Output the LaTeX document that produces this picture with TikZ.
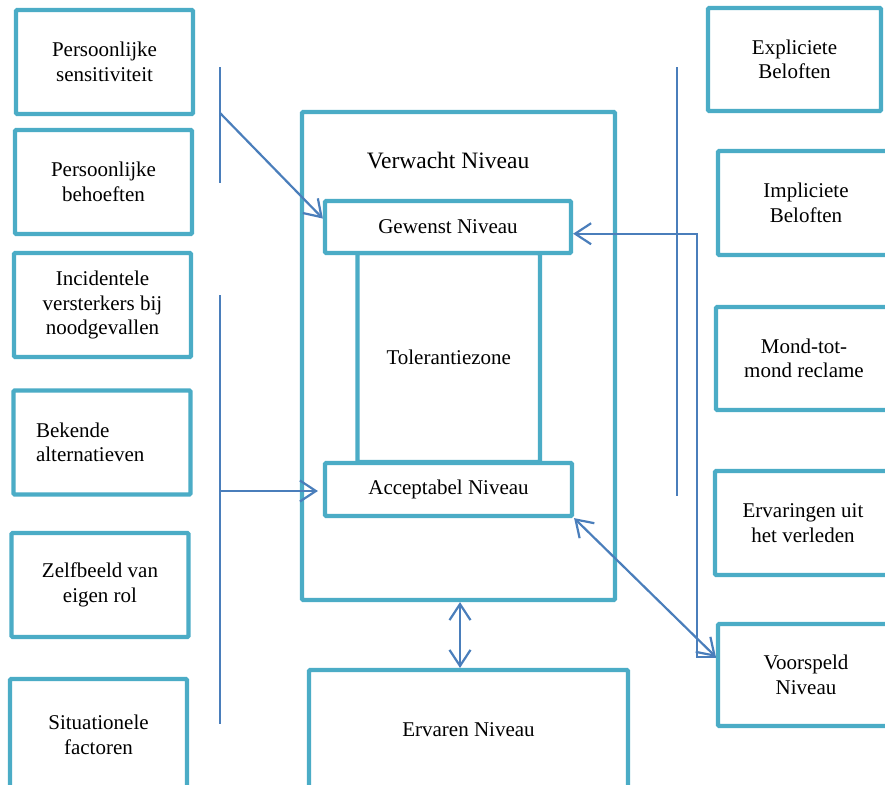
\documentclass[tikz,border=0pt]{standalone}
\usepackage{fontspec}
\setmainfont{Liberation Serif}
\usetikzlibrary{arrows.meta,calc}

\definecolor{boxc}{HTML}{4BACC6}
\definecolor{linkc}{HTML}{4A7EBB}

\tikzset{
  box/.style={draw=boxc, line width=4.2pt, rounded corners=1pt, fill=white,
    align=center, inner sep=0pt, font=\fontsize{21}{24.5}\selectfont},
  sidebox/.style={box, minimum width=177pt, minimum height=104pt},
  link/.style={draw=linkc, line width=2.2pt},
  barb/.style={Straight Barb[length=16pt,width=21pt,line width=2.2pt]},
  arr/.style={link, -{Straight Barb[length=16pt,width=21pt,line width=2.2pt]}},
  dblarr/.style={link, {Straight Barb[length=16pt,width=21pt,line width=2.2pt]}-{Straight Barb[length=16pt,width=21pt,line width=2.2pt]}},
  guide/.style={draw=linkc, line width=1.8pt}
}

\begin{document}
\begin{tikzpicture}[x=1pt,y=-1pt]
\useasboundingbox (0,0) rectangle (885,784);

% left column of factors
\node[sidebox] (ps) at (104.5,62) {Persoonlijke\\sensitiviteit};
\node[sidebox] (pb) at (103.5,182) {Persoonlijke\\behoeften};
\node[sidebox] (iv) at (102.5,305) {Incidentele\\versterkers bij\\noodgevallen};
\node[sidebox, text width=132pt, align=left] (ba) at (102,442.5) {Bekende\\alternatieven};
\node[sidebox] (zb) at (100,585) {Zelfbeeld van\\eigen rol};
\node[sidebox, minimum height=112pt] (sf) at (98.5,735) {Situationele\\factoren};

% right column of factors
\node[sidebox, minimum width=173pt, minimum height=103pt] (eb) at (794.5,59.5) {Expliciete\\Beloften};
\node[sidebox, minimum width=176pt] (ib) at (806,203) {Impliciete\\Beloften};
\node[sidebox, minimum width=176pt, minimum height=103pt] (mm) at (804,358.5) {Mond-tot-\\mond reclame};
\node[sidebox, minimum width=176pt] (ev) at (803,523) {Ervaringen uit\\het verleden};
\node[sidebox, minimum width=176pt, minimum height=102pt] (vp) at (806,675) {Voorspeld\\Niveau};

% central expectation block
\node[box, minimum width=313pt, minimum height=488pt] (vw) at (458.5,356) {};
\node[font=\fontsize{23.5}{28}\selectfont] (vwt) at (448,161) {Verwacht Niveau};
\node[box, minimum width=182.5pt, minimum height=209pt] (tz) at (448.75,357.5) {Tolerantiezone};
\node[box, minimum width=246pt, minimum height=52pt] (gn) at (448,227) {Gewenst Niveau};
\node[box, minimum width=247pt, minimum height=53pt] (an) at (448.5,489.5) {Acceptabel Niveau};
\node[box, minimum width=319pt, minimum height=120pt] (en) at (468.5,730) {Ervaren Niveau};

% bracket lines grouping the factor columns
\coordinate (l1t) at (220,67);
\coordinate (l1b) at (220,183);
\coordinate (l1j) at (220,113);
\coordinate (l2t) at (220,295);
\coordinate (l2b) at (220,724);
\coordinate (l2j) at (220,491);
\coordinate (r1t) at (677,67);
\coordinate (r1b) at (677,496);
\draw[guide] (l1t) -- (l1b);
\draw[guide] (l2t) -- (l2b);
\draw[guide] (r1t) -- (r1b);

% connectors
\coordinate (gnin) at ($(gn.north west)!0.35!(gn.south west)$);
\coordinate (gnr) at ($(gn.north east)!0.62!(gn.south east)$);
\coordinate (vpin) at ($(vp.north west)!0.33!(vp.south west)$);
\coordinate (elb) at (697,0);
\coordinate (vws) at ($(vw.south)+(1.5,0)$);
\draw[arr] (l1j) -- (gnin);
\draw[arr, shorten >=5pt] (l2j) -- (l2j -| an.west);
\draw[arr] (vpin) -- (vpin -| elb) -- (gnr -| elb) -- (gnr);
\draw[dblarr] (an.south east) -- (vpin);
\draw[dblarr] (vws) -- (vws |- en.north);
\end{tikzpicture}
\end{document}
